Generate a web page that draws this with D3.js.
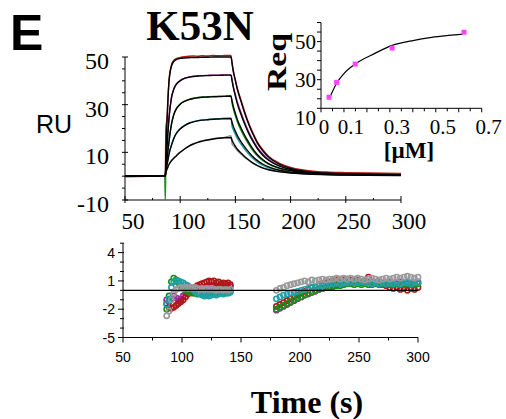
<!DOCTYPE html>
<html>
<head>
<meta charset="utf-8">
<script src="https://cdn.jsdelivr.net/npm/d3@7"></script>
<style>
  body { margin: 0; background: #fff; }
  svg { display: block; }
</style>
</head>
<body>
<script>
// ---- data ----
// sensorgram sample times (s)
var times = [50, 86, 86.5, 87, 88, 89, 90, 92, 94, 96, 98, 100, 104, 108, 112, 116, 120, 125, 130, 135, 140, 146,
  147, 148, 150, 152, 155, 158, 161, 165, 170, 175, 180, 190, 200, 210, 220, 235, 250, 270, 300];

// black fitted curves (RU), highest to lowest concentration
var fit1 = [0,0,0,8,22,33,40.5,46,48,48.8,49.2,49.4,49.6,49.7,49.8,49.8,49.9,49.9,50,50,50,50,
  47.5,44.5,40,36,31.5,27,23,18.5,13.8,10.5,8,5,3.3,2.3,1.7,1.2,1.0,0.8,0.6];
var fit2 = [0,0,0,4,12,19,25,32.5,36.2,38.2,39.3,40,41,41.5,41.8,42,42.1,42.2,42.3,42.3,42.4,42.4,
  40,37.5,33.5,30,26,22.3,19,15.3,11.5,8.7,6.7,4.2,2.8,2,1.5,1.1,0.9,0.7,0.5];
var fit3 = [0,0,0,3,7,11,15,21.5,25.5,27.8,29.2,30.2,31.4,32.1,32.6,32.9,33.1,33.2,33.3,33.4,33.5,33.6,
  31.5,29.5,26.3,23.5,20.3,17.5,15,12,9,6.9,5.3,3.4,2.3,1.7,1.3,0.9,0.7,0.6,0.4];
var fit4 = [0,0,0,2,4.5,7,9.5,12.8,15.5,17.5,18.8,19.8,21.2,22.2,22.8,23.2,23.5,23.7,23.9,24,24.1,24.1,
  22.5,21,18.8,16.8,14.5,12.5,10.7,8.6,6.5,5,3.9,2.5,1.7,1.3,1,0.7,0.6,0.5,0.4];
var fit5 = [0,0,0,1.5,2.8,4,5,6.4,7.4,8.3,9.2,10,11.4,12.6,13.5,14.2,14.7,15.2,15.6,15.9,16.1,16.2,
  15,14,12.5,11.2,9.7,8.4,7.2,5.8,4.4,3.4,2.7,1.8,1.3,1,0.8,0.6,0.5,0.4,0.3];

// coloured measured curves (RU)
var data1 = [0.1,0,0.2,20,24,33.5,41,46.5,48.5,49.2,49.6,49.8,50.1,50.3,50.4,50.3,50.5,50.4,50.6,50.5,50.6,50.7,
  47,44,40.3,36.5,32,27.6,23.6,19,14.3,11,8.4,5.4,3.7,2.7,2.1,1.7,1.5,1.3,1.1];
var data2 = [-0.3,0,0,4.5,12.5,19.5,25.5,32.8,36.3,38.4,39.4,40.2,41.1,41.6,41.9,42.1,42.2,42.3,42.4,42.4,42.5,42.5,
  40.5,38,34.2,30.8,26.8,23,19.7,15.9,12,9.2,7.1,4.5,3,2.2,1.7,1.3,1.1,0.9,0.7];
var data3 = [0,0,-10,4,7.5,11.5,15.2,21.6,25.6,27.9,29.3,30.3,31.5,32.2,32.7,33,33.2,33.3,33.5,33.5,33.6,33.8,
  30.5,28.5,25.3,22.5,19.3,16.6,14.2,11.3,8.5,6.5,5,3.2,2.2,1.6,1.2,0.9,0.8,0.7,0.6];
var data4 = [0,0,0.5,2.5,5,7.3,9.7,13,15.7,17.7,19,20,21.3,22.3,22.9,23.3,23.6,23.8,24,24.1,24.3,24.4,
  20.8,19.5,17.5,15.6,13.4,11.5,9.8,7.8,5.9,4.5,3.5,2.3,1.6,1.2,1,0.8,0.7,0.6,0.6];
var data5 = [0,0,0.3,1.8,3,4.2,5.2,6.5,7.5,8.4,9.3,10.1,11.5,12.7,13.6,14.3,14.8,15.3,15.7,16,16.3,17,
  13.5,12.8,11.7,10.6,9.3,8.1,7,5.7,4.4,3.5,2.8,1.9,1.4,1.1,0.9,0.8,0.7,0.6,0.6];

// inset: steady-state response vs concentration
var concUM = [0.035, 0.068, 0.149, 0.31, 0.623];
var req = [15.8, 23.6, 33.2, 41.6, 49.9];
var reqFitX = [0.035, 0.05, 0.068, 0.1, 0.149, 0.235, 0.31, 0.395, 0.482, 0.555, 0.617];
var reqFitY = [14.7, 18.8, 23.1, 28.2, 33.2, 38.8, 43, 45.4, 47.2, 48.2, 48.9];

// residuals: association window and dissociation window
var resT1 = [87,89,91,93,95,97,99,101,103,105,107,109,111,113,115,117,119,121,123,125,127,129,131,133,135,137,139,141];
var resT2 = [180,183,186,189,192,195,198,201,204,207,210,213,216,219,222,225,228,231,234,237,240,243,246,249,252,255,
  258,261,264,267,270,273,276,279,282,285,288,291,294,297,300];

var resRed1 = [-1.4,-1.8,-1.9,-1.8,-1.6,-1.4,-1.2,-1.0,-0.7,-0.4,-0.1,0.1,0.3,0.5,0.6,0.7,0.8,0.9,1.0,0.9,1.0,0.8,0.9,0.7,0.8,0.7,0.8,0.6];
var resMag1 = [-1.0,-1.2,-0.9,-0.6,-0.8,-1.1,-0.9,-0.6,-0.3,0.0,0.1,0.2,0.2,0.3,0.3,0.2,0.3,0.4,0.3,0.4,0.5,0.4,0.5,0.4,0.5,0.4,0.5,0.4];
var resGrn1 = [-2.0,-0.6,0.9,1.3,1.1,0.8,0.5,0.3,0.0,-0.1,-0.2,-0.3,-0.3,-0.4,-0.3,-0.4,-0.3,-0.4,-0.3,-0.2,-0.3,-0.2,-0.3,-0.2,-0.1,-0.2,-0.1,-0.1];
var resTeal1 = [-1.5,-0.9,0.3,0.9,1.0,1.0,0.9,0.8,0.6,0.5,0.3,0.1,-0.1,-0.3,-0.4,-0.5,-0.6,-0.5,-0.6,-0.5,-0.4,-0.5,-0.4,-0.3,-0.4,-0.3,-0.3,-0.2];
var resGray1 = [-2.7,-2.2,-1.0,-0.3,0.1,0.2,0.3,0.2,0.3,0.2,0.3,0.2,0.3,0.2,0.1,0.2,0.1,0.2,0.1,0.2,0.1,0.0,0.1,0.1,0.0,0.1,0.0,0.1];

var resRed2 = [-1.7,-1.5,-1.3,-1.1,-0.9,-0.7,-0.5,-0.3,-0.1,0.1,0.3,0.4,0.6,0.7,0.8,0.9,1.0,1.1,1.2,1.1,1.2,1.1,1.0,1.1,0.9,1.0,
  1.4,0.9,0.8,0.7,0.6,0.5,0.3,0.2,0.3,0.1,0.2,0.0,0.2,0.1,0.3];
var resMag2 = [-2.1,-1.9,-1.7,-1.5,-1.3,-1.1,-0.9,-0.7,-0.5,-0.4,-0.2,-0.1,0.1,0.2,0.3,0.4,0.5,0.6,0.7,0.8,0.8,0.9,0.8,0.9,0.8,0.8,
  0.9,0.8,0.8,0.9,0.8,0.8,0.9,0.8,0.8,0.9,0.8,0.9,0.8,0.8,0.9];
var resGrn2 = [-2.0,-1.8,-1.6,-1.4,-1.2,-1.0,-0.8,-0.7,-0.5,-0.3,-0.2,0.0,0.1,0.2,0.3,0.3,0.4,0.5,0.5,0.6,0.7,0.7,0.6,0.7,0.6,0.7,
  0.6,0.6,0.7,0.6,0.6,0.7,0.6,0.6,0.7,0.6,0.6,0.7,0.6,0.6,0.7];
var resTeal2 = [-0.9,-0.7,-0.5,-0.4,-0.3,-0.2,-0.1,0.0,0.1,0.2,0.3,0.4,0.5,0.5,0.6,0.7,0.7,0.8,0.7,0.8,0.8,0.9,0.8,0.8,0.9,0.8,
  0.8,0.7,0.8,0.7,0.8,0.7,0.8,0.7,0.8,0.7,0.8,0.8,0.7,0.8,0.8];
var resGray2 = [0.0,0.2,0.3,0.5,0.6,0.7,0.8,0.9,1.0,0.9,1.1,1.0,1.1,1.2,1.1,1.2,1.2,1.3,1.2,1.3,1.2,1.3,1.2,1.3,1.2,1.1,
  1.2,1.3,1.2,1.1,1.2,1.3,1.2,1.3,1.4,1.3,1.4,1.5,1.4,1.3,1.4];

var mainYLabels = [50, 30, 10, -10];
var mainXLabels = [50, 100, 150, 200, 250, 300];
var insetXLabels = [0, 0.1, 0.3, 0.5, 0.7];
var insetYLabels = [50, 30, 10];
var resYLabels = [4, 1, -2, -5];

var red = "#b01818", purple = "#a028a8", green = "#189018", teal = "#20a0a8", gray = "#9a9a9a";

var serif = "'Liberation Serif', 'Times New Roman', serif";
var sans = "'Liberation Sans', Arial, sans-serif";

var svg = d3.select("body").append("svg")
  .attr("width", 506)
  .attr("height", 419);

// ---- main sensorgram ----
var x = d3.scaleLinear().domain([50, 300]).range([125, 401]);
var y = d3.scaleLinear().domain([-10, 50]).range([200, 57]);

var main = svg.append("g");

// axis lines
main.append("line").attr("x1", x(50)).attr("x2", x(50)).attr("y1", y(-10)).attr("y2", y(50))
  .attr("stroke", "#000");
main.append("line").attr("x1", x(50)).attr("x2", x(300)).attr("y1", y(-10)).attr("y2", y(-10))
  .attr("stroke", "#000");

// y ticks every 5
d3.range(-10, 51, 5).forEach(function(v) {
  var big = mainYLabels.indexOf(v) >= 0;
  main.append("line")
    .attr("x1", x(50) - 3).attr("x2", x(50) + (big ? 3 : 0))
    .attr("y1", y(v)).attr("y2", y(v))
    .attr("stroke", "#000");
});
mainYLabels.forEach(function(v) {
  main.append("text")
    .attr("x", 109).attr("y", y(v) + 12)
    .attr("text-anchor", "end")
    .style("font-family", serif).style("font-size", "24px")
    .text(v);
});
// x ticks every 25
d3.range(50, 301, 25).forEach(function(v) {
  var big = v % 50 == 0;
  main.append("line")
    .attr("x1", x(v)).attr("x2", x(v))
    .attr("y1", y(-10) - (big ? 4 : 2)).attr("y2", y(-10) + (big ? 3 : 0))
    .attr("stroke", "#000");
});
mainXLabels.forEach(function(v) {
  main.append("text")
    .attr("x", x(v) + 8).attr("y", 229)
    .attr("text-anchor", "middle")
    .style("font-family", serif).style("font-size", "23px")
    .text(v);
});

var line = d3.line()
  .x(function(d) { return x(d[0]); })
  .y(function(d) { return y(d[1]); })
  .curve(d3.curveMonotoneX);

function pairs(xs, ys) { return xs.map(function(t, i) { return [t, ys[i]]; }); }

var measured = [[data5, gray], [data4, teal], [data3, green], [data2, purple], [data1, red]];
measured.forEach(function(m) {
  main.append("path")
    .attr("d", line(pairs(times, m[0])))
    .attr("fill", "none")
    .attr("stroke", m[1])
    .attr("stroke-width", 1.4);
});
[fit1, fit2, fit3, fit4, fit5].forEach(function(f) {
  main.append("path")
    .attr("d", line(pairs(times, f)))
    .attr("fill", "none")
    .attr("stroke", "#000")
    .attr("stroke-width", 1.4);
});

// ---- inset ----
var ix = d3.scaleLinear().domain([0, 0.7]).range([321, 481.7]);
var iy = d3.scaleLinear().domain([10, 55]).range([108.3, 22.5]);
var inset = svg.append("g");

inset.append("line").attr("x1", ix(0)).attr("x2", ix(0)).attr("y1", iy(10)).attr("y2", iy(55)).attr("stroke", "#000");
inset.append("line").attr("x1", ix(0)).attr("x2", ix(0.7)).attr("y1", iy(10)).attr("y2", iy(10)).attr("stroke", "#000");
d3.range(10, 56, 5).forEach(function(v) {
  inset.append("line").attr("x1", ix(0) - 4).attr("x2", ix(0))
    .attr("y1", iy(v)).attr("y2", iy(v)).attr("stroke", "#000");
});
d3.range(0, 15).forEach(function(i) {
  var v = i * 0.05;
  inset.append("line").attr("x1", ix(v)).attr("x2", ix(v))
    .attr("y1", iy(10)).attr("y2", iy(10) + (i % 2 == 0 ? 4 : 3)).attr("stroke", "#000");
});
insetYLabels.forEach(function(v) {
  inset.append("text")
    .attr("x", 316).attr("y", iy(v) + 17)
    .attr("text-anchor", "end")
    .style("font-family", serif).style("font-size", "21px")
    .text(v);
});
insetXLabels.forEach(function(v) {
  inset.append("text")
    .attr("x", ix(v) + (v == 0 ? 3 : 7)).attr("y", 134)
    .attr("text-anchor", "middle")
    .style("font-family", serif).style("font-size", "21px")
    .text(v);
});
inset.append("path")
  .attr("d", d3.line().x(function(d) { return ix(d[0]); }).y(function(d) { return iy(d[1]); })
    .curve(d3.curveMonotoneX)(pairs(reqFitX, reqFitY)))
  .attr("fill", "none").attr("stroke", "#000").attr("stroke-width", 1.2);
inset.selectAll("rect.pt")
  .data(pairs(concUM, req))
  .enter()
  .append("rect")
    .attr("x", function(d) { return ix(d[0]) - 2.5; })
    .attr("y", function(d) { return iy(d[1]) - 2.5; })
    .attr("width", 5).attr("height", 5)
    .attr("fill", "#ff44ff");
inset.append("text")
  .attr("transform", "translate(286,62) rotate(-90)")
  .attr("text-anchor", "middle")
  .attr("textLength", 58).attr("lengthAdjust", "spacingAndGlyphs")
  .style("font-family", serif).style("font-size", "27px").style("font-weight", "bold")
  .text("Req");
inset.append("text")
  .attr("x", 409).attr("y", 158)
  .attr("text-anchor", "middle")
  .style("font-family", serif).style("font-size", "23px").style("font-weight", "bold")
  .text("[\u00b5M]");

// ---- residuals ----
var rx = d3.scaleLinear().domain([50, 300]).range([123, 418]);
var ry = d3.scaleLinear().domain([-5, 5]).range([337.5, 243.2]);
var res = svg.append("g");

res.append("line").attr("x1", rx(50)).attr("x2", rx(50)).attr("y1", ry(-5)).attr("y2", ry(5)).attr("stroke", "#000");
res.append("line").attr("x1", rx(50)).attr("x2", rx(300)).attr("y1", ry(-5)).attr("y2", ry(-5)).attr("stroke", "#000");
d3.range(-5, 6).forEach(function(v) {
  var big = resYLabels.indexOf(v) >= 0;
  res.append("line").attr("x1", rx(50) - (big ? 5 : 3)).attr("x2", rx(50) + 1)
    .attr("y1", ry(v)).attr("y2", ry(v)).attr("stroke", "#000");
});
resYLabels.forEach(function(v) {
  res.append("text")
    .attr("x", 115).attr("y", ry(v) + 5)
    .attr("text-anchor", "end")
    .style("font-family", sans).style("font-size", "14px")
    .text(v);
});
d3.range(50, 301, 25).forEach(function(v) {
  var big = v % 50 == 0;
  res.append("line").attr("x1", rx(v)).attr("x2", rx(v))
    .attr("y1", ry(-5)).attr("y2", ry(-5) + (big ? 5 : 3)).attr("stroke", "#000");
});
mainXLabels.forEach(function(v) {
  res.append("text")
    .attr("x", rx(v)).attr("y", 362)
    .attr("text-anchor", "middle")
    .style("font-family", sans).style("font-size", "14px")
    .text(v);
});

var resSets = [
  [resMag1, resMag2, purple],
  [resRed1, resRed2, red],
  [resGrn1, resGrn2, green],
  [resTeal1, resTeal2, teal],
  [resGray1, resGray2, gray]
];
resSets.forEach(function(s) {
  var pts = pairs(resT1, s[0]).concat(pairs(resT2, s[1]));
  res.append("g")
    .selectAll("circle")
    .data(pts)
    .enter()
    .append("circle")
      .attr("cx", function(d) { return rx(d[0]); })
      .attr("cy", function(d) { return ry(d[1]); })
      .attr("r", 2.6)
      .attr("fill", "none")
      .attr("stroke", s[2])
      .attr("stroke-width", 1.6);
});
// zero line on top
res.append("line").attr("x1", rx(50)).attr("x2", rx(300)).attr("y1", ry(0)).attr("y2", ry(0))
  .attr("stroke", "#000").attr("stroke-width", 1.2);

// ---- titles ----
svg.append("text").attr("x", 10).attr("y", 50)
  .style("font-family", sans).style("font-size", "50px").style("font-weight", "bold")
  .text("E");
svg.append("text").attr("x", 200).attr("y", 40)
  .attr("text-anchor", "middle")
  .style("font-family", serif).style("font-size", "43px").style("font-weight", "bold")
  .text("K53N");
svg.append("text").attr("x", 36).attr("y", 133)
  .style("font-family", sans).style("font-size", "25px")
  .text("RU");
svg.append("text").attr("x", 307).attr("y", 413)
  .attr("text-anchor", "middle")
  .style("font-family", serif).style("font-size", "32px").style("font-weight", "bold")
  .text("Time (s)");
</script>
</body>
</html>
